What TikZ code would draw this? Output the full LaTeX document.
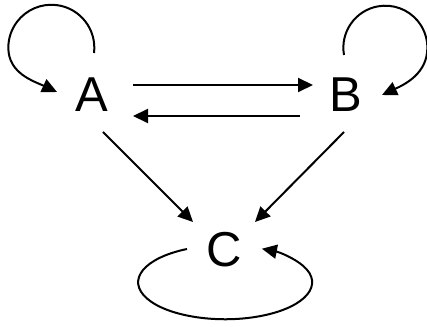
\documentclass[tikz,border=0pt]{standalone}
\usepackage{fontspec}
\setmainfont{Liberation Sans}
\usetikzlibrary{arrows.meta,calc}
\tikzset{
  edgearrow/.style={line width=2pt,-{Triangle[length=15pt,width=14pt]}},
  state/.style={font=\fontsize{49}{49}\selectfont,inner sep=0pt}
}
\begin{document}
\begin{tikzpicture}[x=1pt,y=1pt]
  \useasboundingbox (0,0) rectangle (427,326);
  \node[state] (A) at (92,231) {A};
  \node[state] (B) at (346,231) {B};
  \node[state] (C) at (224,76) {C};
  % between A and B
  \draw[edgearrow] ($(A)+(41,10)$) -- ($(B)+(-33,10)$);
  \draw[edgearrow] ($(B)+(-46,-21)$) -- ($(A)+(41,-21)$);
  % down to C
  \draw[edgearrow] ($(A)+(11,-37)$) -- ($(C)+(-31,28)$);
  \draw[edgearrow] ($(B)+(-2,-37)$) -- ($(C)+(31,28)$);
  % self loops
  \draw[edgearrow] ($(A)+(2,42)$) arc[start angle=-7,end angle=180,radius=43]
    to[out=-90,in=155] ($(A)+(-35,3)$);
  \draw[edgearrow] ($(B)+(-2,40)$) arc[start angle=190,end angle=0,radius=42]
    to[out=-90,in=25] ($(B)+(36,0)$);
  \draw[edgearrow] ($(C)+(-37,1)$)
    arc[start angle=116,end angle=425,x radius=87,y radius=37];
\end{tikzpicture}
\end{document}
